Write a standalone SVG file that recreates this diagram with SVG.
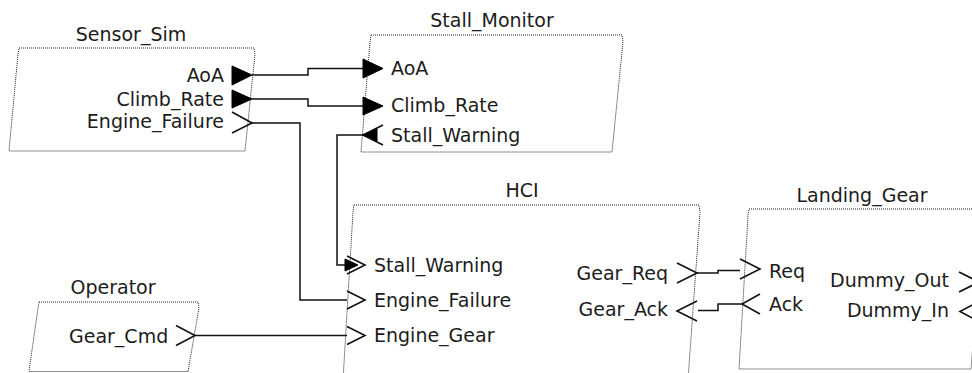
<svg xmlns="http://www.w3.org/2000/svg" width="972" height="373" viewBox="0 0 972 373">
  <style>
    .frame { fill: none; stroke: #222; stroke-width: 1; stroke-dasharray: 1 1; }
    .title, .lbl { font-family: "DejaVu Sans", Verdana, sans-serif; font-size: 19px; fill: #1c1c1c; }
    .title { text-anchor: middle; }
    .end { text-anchor: end; }
    .port { fill: none; stroke: #111; stroke-width: 1.6; stroke-linejoin: miter; }
    .solid { fill: #000; stroke: #000; stroke-width: 1; }
    .wire { fill: none; stroke: #111; stroke-width: 1.5; }
  </style>
  <rect width="972" height="373" fill="#fff"/>

  <!-- Wiring between component ports -->
  <g id="connectors">
    <polyline class="wire" points="252,75 308,75 308,68.5 363,68.5"/>
    <polyline class="wire" points="252,99 308,99 308,106 363,106"/>
    <polyline class="wire" points="252,123 300,123 300,300 347,300"/>
    <polyline class="wire" points="363,135 337,135 337,265 345,265"/>
    <polyline class="wire" points="195,335.5 347,335.5"/>
    <polyline class="wire" points="697,273 718,273 718,270.5 740,270.5"/>
    <polyline class="wire" points="698,310.5 718,310.5 718,304 742,304"/>
  </g>

  <g id="Sensor_Sim">
    <polygon class="frame" points="19,48 254,48 255,54 245,151 9,151 18,54"/>
    <text class="title" x="131" y="41">Sensor_Sim</text>
    <text class="lbl end" x="224" y="81.5">AoA</text>
    <text class="lbl end" x="224" y="105.5">Climb_Rate</text>
    <text class="lbl end" x="224" y="128">Engine_Failure</text>
    <polygon class="solid" points="232,66 252,75 232,85"/>
    <polygon class="solid" points="232,90 252,99 232,108"/>
    <polyline class="port" points="232,112 252,123 232,133"/>
  </g>

  <g id="Stall_Monitor">
    <polygon class="frame" points="371,35 622,35 623,42 612,152 361,152 370,42"/>
    <text class="title" x="492" y="27">Stall_Monitor</text>
    <text class="lbl" x="391" y="75">AoA</text>
    <text class="lbl" x="391" y="111.5">Climb_Rate</text>
    <text class="lbl" x="391" y="141.5">Stall_Warning</text>
    <polygon class="solid" points="363,59 383,68.5 363,78"/>
    <polygon class="solid" points="363,97 383,106 363,115"/>
    <polyline class="port" points="383,125 363,135 383,145"/>
    <polygon class="solid" points="363,135 377,128.5 377,141.5"/>
  </g>

  <g id="HCI">
    <polygon class="frame" points="354,205 699,205 700,212 688,380 343,380 353,212"/>
    <text class="title" x="522" y="196.5">HCI</text>
    <text class="lbl" x="374" y="271.5">Stall_Warning</text>
    <text class="lbl" x="374" y="306.5">Engine_Failure</text>
    <text class="lbl" x="374" y="342">Engine_Gear</text>
    <text class="lbl end" x="668" y="280">Gear_Req</text>
    <text class="lbl end" x="668" y="315.5">Gear_Ack</text>
    <polygon class="solid" points="345,259 358,265 345,271"/>
    <polyline class="port" points="347,256 365,265 347,274"/>
    <polyline class="port" points="347,291 365,300 347,309"/>
    <polyline class="port" points="347,326.5 365,335.5 347,344.5"/>
    <polyline class="port" points="677,263 697,273 677,283"/>
    <polyline class="port" points="697,301 677,311 697,321"/>
  </g>

  <g id="Landing_Gear">
    <polygon class="frame" points="749,209 982,209 983,216 971,369 739,369 748,216"/>
    <text class="title" x="862" y="201.5">Landing_Gear</text>
    <text class="lbl" x="769" y="278">Req</text>
    <text class="lbl" x="769" y="310.5">Ack</text>
    <text class="lbl end" x="949" y="286.5">Dummy_Out</text>
    <text class="lbl end" x="949" y="317">Dummy_In</text>
    <polyline class="port" points="740,259 760,269 740,279"/>
    <polyline class="port" points="760,294 742,304 760,314"/>
    <polyline class="port" points="959,272 979,282 959,292"/>
    <polyline class="port" points="980,301 960,311.5 980,322"/>
  </g>

  <g id="Operator">
    <polygon class="frame" points="39,302 198,302 199,308 188,371.5 29,371.5 38,308"/>
    <text class="title" x="113" y="294">Operator</text>
    <text class="lbl" x="69" y="342.5">Gear_Cmd</text>
    <polyline class="port" points="176,325.5 195,335.5 176,345.5"/>
  </g>
</svg>
